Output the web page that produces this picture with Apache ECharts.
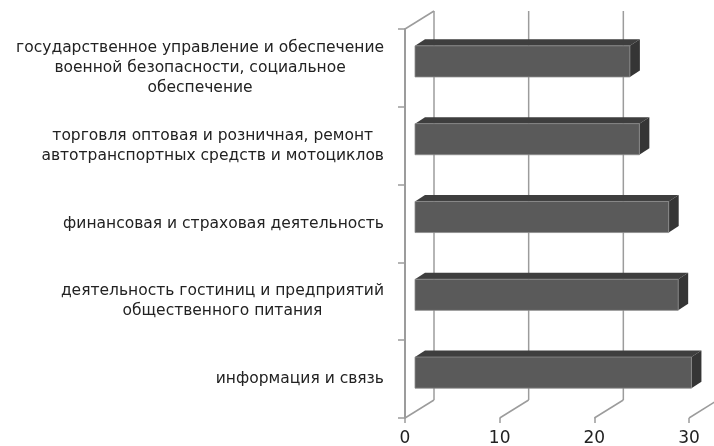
<!DOCTYPE html>
<html><head><meta charset="utf-8">
<script src="https://cdn.jsdelivr.net/npm/echarts@6/dist/echarts.min.js"></script>
<style>html,body{margin:0;padding:0;background:#fff}#c{width:714px;height:446px}</style>
</head><body><div id="c"></div>
<script>
const categories = [
  'государственное управление и обеспечение\nвоенной безопасности, социальное\nобеспечение',
  'торговля оптовая и розничная, ремонт\nавтотранспортных средств и мотоциклов',
  'финансовая и страховая деятельность',
  'деятельность гостиниц и предприятий\nобщественного питания',
  'информация и связь'
];
const values = [22.7, 23.7, 26.8, 27.8, 29.2];
const xTicks = [0, 10, 20, 30];

const DX = 29, DY = -18;      // back wall depth offset
const BD = 10, BDY = -6.5;    // bar front/back depth
const GRID = '#9c9c9c';
const FONT = 'DejaVu Sans';

const chart = echarts.init(document.getElementById('c'), null, {renderer: 'canvas'});
chart.setOption({
  animation: false,
  backgroundColor: '#fff',
  grid: {left: 405, right: 25, top: 29, bottom: 28, outerBoundsMode: 'none', containLabel: false},
  xAxis: {
    type: 'value', min: 0, max: 30, interval: 10,
    axisLine: {show: false},
    axisTick: {show: true, length: 5, lineStyle: {color: GRID, width: 1.5}},
    splitLine: {show: false},
    axisLabel: {fontFamily: FONT, fontSize: 17, color: '#222', margin: 12}
  },
  yAxis: {
    type: 'category', inverse: true, data: categories,
    axisLine: {show: true, lineStyle: {color: GRID, width: 2}},
    axisTick: {show: true, length: 7, lineStyle: {color: GRID, width: 1.5}},
    splitLine: {show: false},
    axisLabel: {
      interval: 0, margin: 21, color: '#222', fontFamily: FONT, fontSize: 15.5, lineHeight: 20,
      formatter: v => v.split('\n').map(l => '{c|' + l + '}').join('\n'),
      rich: {c: {align: 'center', fontFamily: FONT, fontSize: 15.5, lineHeight: 20, color: '#222'}}
    }
  },
  series: [
    {
      type: 'custom', z: 1, silent: true,
      data: xTicks.map(t => [t, 0]),
      renderItem: (params, api) => {
        const cs = params.coordSys;
        const x = api.coord([api.value(0), 0])[0];
        const top = cs.y, bot = cs.y + cs.height;
        const ls = {stroke: GRID, lineWidth: 1.5};
        const ch = [
          {type: 'line', shape: {x1: x + DX, y1: top + DY, x2: x + DX, y2: bot + DY}, style: ls},
          {type: 'line', shape: {x1: x, y1: bot, x2: x + DX, y2: bot + DY}, style: ls}
        ];
        if (params.dataIndex === 0) {
          ch.push({type: 'line', shape: {x1: x, y1: top, x2: x + DX, y2: top + DY}, style: ls});
        }
        return {type: 'group', children: ch};
      }
    },
    {
      type: 'custom', z: 2, silent: true,
      data: values.map((v, i) => [v, i]),
      renderItem: (params, api) => {
        const s = api.coord([0, api.value(1)]);
        const e = api.coord([api.value(0), api.value(1)]);
        const band = api.size([0, 1])[1];
        const h = band * 0.4;
        const x0 = s[0] + BD, x1 = e[0] + BD;
        const yc = s[1] + BDY;
        const yt = yc - h / 2, yb = yc + h / 2;
        return {type: 'group', children: [
          {type: 'polygon', shape: {points: [[x0, yt], [x0 + BD, yt + BDY], [x1 + BD, yt + BDY], [x1, yt]]}, style: {fill: '#3e3e3e'}},
          {type: 'polygon', shape: {points: [[x1, yt], [x1 + BD, yt + BDY], [x1 + BD, yb + BDY], [x1, yb]]}, style: {fill: '#353535'}},
          {type: 'rect', shape: {x: x0, y: yt, width: x1 - x0, height: h}, style: {fill: '#5a5a5a', stroke: '#8c8c8c', lineWidth: 0.8}}
        ]};
      }
    }
  ]
});
</script>
</body></html>
